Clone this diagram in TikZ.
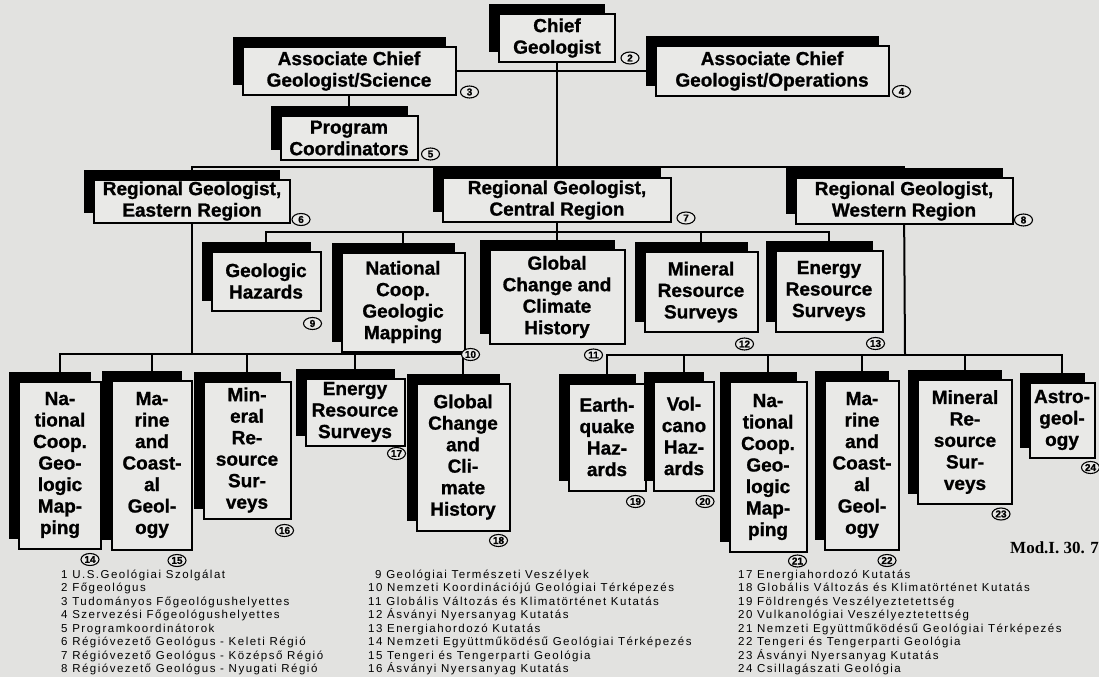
\documentclass[tikz,border=0pt]{standalone}
\usepackage{fontspec}
\setmainfont{Liberation Sans}
\newfontfamily\boxfont[BoldFeatures={FakeBold=1}]{Liberation Sans}
\newfontfamily\legendfont[LetterSpace=13]{Liberation Sans}
\newfontfamily\modfont{Liberation Serif}
\usetikzlibrary{positioning,calc}
\usetikzlibrary{shapes.geometric,shadows}
\pgfdeclarelayer{background}
\pgfdeclarelayer{below-main}
\pgfsetlayers{background,below-main,main}
\definecolor{paper}{RGB}{226,226,224}
\definecolor{card}{RGB}{233,233,231}
\tikzset{
  unit/.style={draw, line width=2pt, fill=card, align=center, inner sep=0pt,
    font=\boxfont\bfseries\fontsize{19}{21.5}\selectfont,
    general shadow={fill=black, shadow xshift=-10pt, shadow yshift=10pt}},
  num/.style={draw, ellipse, line width=1.1pt, inner sep=0pt, fill=card,
    minimum width=18pt, minimum height=12pt,
    font=\boxfont\bfseries\fontsize{10}{10}\selectfont},
  link/.style={line width=2pt, xshift=-5pt},
  legend/.style={anchor=base west, inner sep=0pt,
    font=\legendfont\fontsize{11.5}{11.5}\selectfont}
}
\begin{document}
\begin{tikzpicture}[x=1pt, y=-1pt]
    \useasboundingbox (0,0) rectangle (1099,677);
    \begin{pgfonlayer}{background}
      \fill[paper] (0,0) rectangle (1099,677);
    \end{pgfonlayer}

    % top of the survey
    \node[unit, minimum width=116, minimum height=48] (chief) at (557,38) {Chief\\Geologist};
    \node[unit, minimum width=213, minimum height=48] (sci) at (349,71) {Associate Chief\\Geologist/Science};
    \node[unit, minimum width=233, minimum height=49] (ops) at (772,71) {Associate Chief\\Geologist/Operations};
    \node[unit, minimum width=137, minimum height=44] (prog) at (349,138) {Program\\Coordinators};

    % regions
    \node[unit, minimum width=196, minimum height=43] (east) at (192,201) {Regional Geologist,\\Eastern Region};
    \node[unit, minimum width=228, minimum height=44] (central) at (557,200) {Regional Geologist,\\Central Region};
    \node[unit, minimum width=217, minimum height=46] (west) at (904,201) {Regional Geologist,\\Western Region};
    \coordinate (rbar) at (557,167);

    % central region
    \coordinate (cbar) at (557,232);
    \node[unit, minimum width=109, minimum height=59] (geohaz) at (266,281) {Geologic\\Hazards};
    \node[unit, minimum width=123, minimum height=99] (natC) at (403,302) {National\\Coop.\\Geologic\\Mapping};
    \node[unit, minimum width=135, minimum height=94] (globC) at (557,297) {Global\\Change and\\Climate\\History};
    \node[unit, minimum width=113, minimum height=80] (minC) at (701,292) {Mineral\\Resource\\Surveys};
    \node[unit, minimum width=107, minimum height=81] (enC) at (829,291) {Energy\\Resource\\Surveys};

    % eastern region
    \coordinate (ebar) at (192,354);
    \node[unit, minimum width=82, minimum height=167] (natE) at (60,465) {Na-\\tional\\Coop.\\Geo-\\logic\\Map-\\ping};
    \node[unit, minimum width=80, minimum height=169] (marE) at (152,465) {Ma-\\rine\\and\\Coast-\\al\\Geol-\\ogy};
    \node[unit, minimum width=87, minimum height=137] (minE) at (247,450) {Min-\\eral\\Re-\\source\\Sur-\\veys};
    \node[unit, minimum width=99, minimum height=67] (enE) at (355,412) {Energy\\Resource\\Surveys};
    \node[unit, minimum width=93, minimum height=147] (globE) at (463,457) {Global\\Change\\and\\Cli-\\mate\\History};

    % western region
    \coordinate (wbar) at (905,355);
    \node[unit, minimum width=77, minimum height=107] (quake) at (607,437) {Earth-\\quake\\Haz-\\ards};
    \node[unit, minimum width=60, minimum height=109] (volc) at (684,436) {Vol-\\cano\\Haz-\\ards};
    \node[unit, minimum width=77, minimum height=170] (natW) at (768,467) {Na-\\tional\\Coop.\\Geo-\\logic\\Map-\\ping};
    \node[unit, minimum width=74, minimum height=169] (marW) at (862,465) {Ma-\\rine\\and\\Coast-\\al\\Geol-\\ogy};
    \node[unit, minimum width=94, minimum height=124] (minW) at (965,442) {Mineral\\Re-\\source\\Sur-\\veys};
    \node[unit, minimum width=65, minimum height=75] (astro) at (1062,420) {Astro-\\geol-\\ogy};

    % reference numbers
    \node[num] (n2) at ($(chief.south east)+(14,-5)$) {2};
    \node[num] (n3) at ($(sci.south east)+(13,-4)$) {3};
    \node[num] (n4) at ($(ops.south east)+(12,-5)$) {4};
    \node[num] (n5) at ($(prog.south east)+(12,-7)$) {5};
    \node[num] (n6) at ($(east.south east)+(10,-4)$) {6};
    \node[num] (n7) at ($(central.south east)+(14,-5)$) {7};
    \node[num] (n8) at ($(west.south east)+(10,-5)$) {8};
    \node[num] (n9) at ($(geohaz.south east)+(-9,12)$) {9};
    \node[num] (n10) at ($(natC.south east)+(5,2)$) {10};
    \node[num] (n11) at ($(globC.south east)+(-32,10)$) {11};
    \node[num] (n12) at ($(minC.south east)+(-14,11)$) {12};
    \node[num] (n13) at ($(enC.south east)+(-8,11)$) {13};
    \node[num] (n14) at ($(natE.south east)+(-12,10)$) {14};
    \node[num] (n15) at ($(marE.south east)+(-16,10)$) {15};
    \node[num] (n16) at ($(minE.south east)+(-7,11)$) {16};
    \node[num] (n17) at ($(enE.south east)+(-9,7)$) {17};
    \node[num] (n18) at ($(globE.south east)+(-12,9)$) {18};
    \node[num] (n19) at ($(quake.south east)+(-11,10)$) {19};
    \node[num] (n20) at ($(volc.south east)+(-10,10)$) {20};
    \node[num] (n21) at ($(natW.south east)+(-10,8)$) {21};
    \node[num] (n22) at ($(marW.south east)+(-13,10)$) {22};
    \node[num] (n23) at ($(minW.south east)+(-12,9)$) {23};
    \node[num] (n24) at ($(astro.south east)+(-5,9)$) {24};

    % lines of command, under the boxes
    \begin{pgfonlayer}{below-main}
      \draw[link] (sci) -- (ops);
      \draw[link] (chief) -- (central);
      \draw[link] (sci) -- (prog);
      \draw[link] (east) |- (rbar) -| (west);
      \draw[link] (central) -- (globC);
      \draw[link] (geohaz) |- (cbar) -| (enC);
      \draw[link] (natC) |- (cbar);
      \draw[link] (minC) |- (cbar);
      \draw[link] (east) -- (ebar);
      \draw[link] (natE) |- (ebar) -| (globE);
      \draw[link] (marE) |- (ebar);
      \draw[link] (minE) |- (ebar);
      \draw[link] (enE) |- (ebar);
      \draw[link] (west) -- (wbar);
      \draw[link] (quake) |- (wbar) -| (astro);
      \draw[link] (volc) |- (wbar);
      \draw[link] (natW) |- (wbar);
      \draw[link] (marW) |- (wbar);
      \draw[link] (minW) |- (wbar);
    \end{pgfonlayer}

    \node[anchor=base west, inner sep=0pt, font=\modfont\bfseries\fontsize{17}{17}\selectfont] (mod) at (1010,553) {Mod.I. 30. 7};

    % legend
    \node[legend] (l1) at (61,578) {1 U.S.Geológiai Szolgálat};
    \node[legend] (l2) at (61,591.5) {2 Főgeológus};
    \node[legend] (l3) at (61,605) {3 Tudományos Főgeológushelyettes};
    \node[legend] (l4) at (61,618.5) {4 Szervezési Főgeológushelyettes};
    \node[legend] (l5) at (61,632) {5 Programkoordinátorok};
    \node[legend] (l6) at (61,645.5) {6 Régióvezető Geológus - Keleti Régió};
    \node[legend] (l7) at (61,659) {7 Régióvezető Geológus - Középső Régió};
    \node[legend] (l8) at (61,672.5) {8 Régióvezető Geológus - Nyugati Régió};
    \node[legend] (l9) at (375,578) {9 Geológiai Természeti Veszélyek};
    \node[legend] (l10) at (368,591.5) {10 Nemzeti Koordinációjú Geológiai Térképezés};
    \node[legend] (l11) at (368,605) {11 Globális Változás és Klimatörténet Kutatás};
    \node[legend] (l12) at (368,618.5) {12 Ásványi Nyersanyag Kutatás};
    \node[legend] (l13) at (368,632) {13 Energiahordozó Kutatás};
    \node[legend] (l14) at (368,645.5) {14 Nemzeti Együttműködésű Geológiai Térképezés};
    \node[legend] (l15) at (368,659) {15 Tengeri és Tengerparti Geológia};
    \node[legend] (l16) at (368,672.5) {16 Ásványi Nyersanyag Kutatás};
    \node[legend] (l17) at (738,578) {17 Energiahordozó Kutatás};
    \node[legend] (l18) at (738,591.5) {18 Globális Változás és Klimatörténet Kutatás};
    \node[legend] (l19) at (738,605) {19 Földrengés Veszélyeztetettség};
    \node[legend] (l20) at (738,618.5) {20 Vulkanológiai Veszélyeztetettség};
    \node[legend] (l21) at (738,632) {21 Nemzeti Együttműködésű Geológiai Térképezés};
    \node[legend] (l22) at (738,645.5) {22 Tengeri és Tengerparti Geológia};
    \node[legend] (l23) at (738,659) {23 Ásványi Nyersanyag Kutatás};
    \node[legend] (l24) at (738,672.5) {24 Csillagászati Geológia};
\end{tikzpicture}
\end{document}
